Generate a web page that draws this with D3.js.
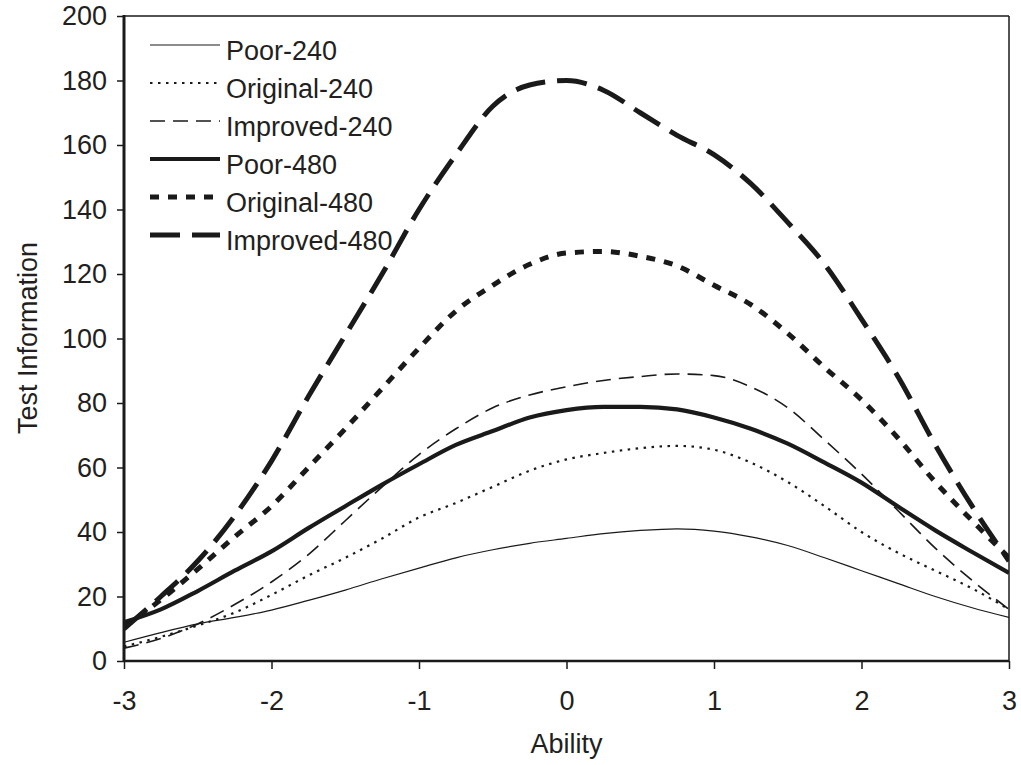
<!DOCTYPE html>
<html>
<head>
<meta charset="utf-8">
<script src="https://cdn.jsdelivr.net/npm/d3@7"></script>
<style>
  html, body { margin: 0; padding: 0; background: #fff; }
  svg { display: block; }
  text { font-family: "Liberation Sans", Arial, sans-serif; fill: #231f20; }
</style>
</head>
<body>
<svg id="chart" width="1021" height="765"></svg>
<script>
// Ability grid (theta) shared by all test information curves
const ability = [-3, -2.75, -2.5, -2.25, -2, -1.75, -1.5, -1.25, -1, -0.75, -0.5, -0.25,
                 0, 0.25, 0.5, 0.75, 1, 1.25, 1.5, 1.75, 2, 2.25, 2.5, 2.75, 3];

// Test information per item pool and test length
const poor240 = [5.8, 8.8, 11.5, 13.5, 15.8, 18.8, 22, 25.5, 28.8, 32, 34.5, 36.5,
                 38, 39.5, 40.5, 41, 40.3, 38.5, 35.8, 32, 28, 24, 20, 16.5, 13.5];
const original240 = [4.5, 7.5, 11, 15, 20.5, 26.5, 32, 38, 44.5, 49, 54, 59,
                     62.5, 64.5, 66, 66.7, 65.5, 61.5, 55.5, 48, 40, 33.5, 28, 22.5, 16];
const improved240 = [4, 7, 11.5, 17.5, 24.5, 33, 43.5, 54, 64, 72, 78.5, 82.5,
                     85, 87, 88.2, 89, 88.5, 85, 78.5, 68.5, 58, 46.5, 35, 25, 16];
const poor480 = [12, 16, 21.7, 28, 34, 41.2, 48, 54.7, 61, 67, 71.3, 75.5,
                 77.8, 78.8, 78.8, 78, 75.5, 72, 67.4, 61.5, 55.3, 47.8, 40.5, 33.8, 27.3];
const original480 = [10.5, 19, 28.5, 38.5, 48, 60, 72, 84.5, 97, 108.5, 116.5, 123,
                     126.5, 127, 125.5, 122.5, 116.5, 110.5, 101.6, 91, 81, 69, 55.5, 43.5, 32];
const improved480 = [10, 20, 31, 45, 62, 82, 101, 120, 140, 157, 172, 178.6,
                     180, 177, 170, 163, 157, 148, 136, 123, 106, 88, 67, 48, 31];

const seriesNames = ["Poor-240", "Original-240", "Improved-240", "Poor-480", "Original-480", "Improved-480"];
const seriesValues = [poor240, original240, improved240, poor480, original480, improved480];

const xTicks = [-3, -2, -1, 0, 1, 2, 3];
const yTicks = [0, 20, 40, 60, 80, 100, 120, 140, 160, 180, 200];

// Stroke appearance for each series
const styles = [
  { width: 1.2, dash: null },
  { width: 2.2, dash: "2.5,5.5" },
  { width: 1.6, dash: "15,8" },
  { width: 4.2, dash: null },
  { width: 5,   dash: "9,9" },
  { width: 5,   dash: "30,12" }
];

const margin = { left: 124, right: 1009, top: 16, bottom: 661 };
const svg = d3.select("#chart");

const x = d3.scaleLinear().domain([-3, 3]).range([margin.left, margin.right]);
const y = d3.scaleLinear().domain([0, 200]).range([margin.bottom, margin.top]);

const ink = "#1a1a1a";

// Plot frame: thin top/right, heavier left/bottom axes
svg.append("line").attr("x1", margin.left).attr("x2", margin.right)
  .attr("y1", margin.top).attr("y2", margin.top)
  .attr("stroke", ink).attr("stroke-width", 1.5);
svg.append("line").attr("x1", margin.right).attr("x2", margin.right)
  .attr("y1", margin.top).attr("y2", margin.bottom)
  .attr("stroke", ink).attr("stroke-width", 1.5);

// Axes
const yAxis = svg.append("g")
  .attr("transform", `translate(${margin.left},0)`)
  .call(d3.axisLeft(y).tickValues(yTicks).tickSize(7).tickPadding(10).tickFormat(d3.format("d")));
const xAxis = svg.append("g")
  .attr("transform", `translate(0,${margin.bottom})`)
  .call(d3.axisBottom(x).tickValues(xTicks).tickSize(8).tickPadding(22).tickFormat(d => d < 0 ? "-" + Math.abs(d) : String(d)));

[yAxis, xAxis].forEach(g => {
  g.select(".domain").remove();
  g.selectAll(".tick line").attr("stroke", ink).attr("stroke-width", 1.5);
  g.selectAll(".tick text")
    .attr("font-family", "'Liberation Sans', Arial, sans-serif")
    .attr("font-size", 27).attr("fill", "#231f20");
});

// Curves
const clipId = "plot-clip";
svg.append("clipPath").attr("id", clipId)
  .append("rect").attr("x", margin.left).attr("y", margin.top - 5)
  .attr("width", margin.right - margin.left).attr("height", margin.bottom - margin.top + 5);

const line = d3.line()
  .x((d, i) => x(ability[i]))
  .y(d => y(d))
  .curve(d3.curveMonotoneX);

const curves = svg.append("g").attr("clip-path", `url(#${clipId})`);
seriesValues.forEach((vals, k) => {
  curves.append("path")
    .datum(vals)
    .attr("d", line)
    .attr("fill", "none")
    .attr("stroke", ink)
    .attr("stroke-width", styles[k].width)
    .attr("stroke-dasharray", styles[k].dash)
    .attr("stroke-linejoin", "round");
});

// Axis lines drawn over the curves
svg.append("line").attr("x1", margin.left).attr("x2", margin.left)
  .attr("y1", margin.top - 1).attr("y2", margin.bottom + 1)
  .attr("stroke", ink).attr("stroke-width", 3);
svg.append("line").attr("x1", margin.left).attr("x2", margin.right)
  .attr("y1", margin.bottom).attr("y2", margin.bottom)
  .attr("stroke", ink).attr("stroke-width", 2.5);

// Legend
const legend = svg.append("g");
seriesNames.forEach((name, k) => {
  const ly = 45 + k * 38;
  legend.append("line")
    .attr("x1", 150).attr("x2", 220).attr("y1", ly).attr("y2", ly)
    .attr("stroke", ink)
    .attr("stroke-width", styles[k].width)
    .attr("stroke-dasharray", styles[k].dash);
  legend.append("text")
    .attr("x", 226).attr("y", ly + 15)
    .attr("font-size", 27)
    .text(name);
});

// Axis titles
svg.append("text")
  .attr("x", x(0)).attr("y", 753)
  .attr("text-anchor", "middle")
  .attr("font-size", 27)
  .text("Ability");
svg.append("text")
  .attr("transform", "translate(37,338) rotate(-90)")
  .attr("text-anchor", "middle")
  .attr("font-size", 27)
  .text("Test Information");
</script>
</body>
</html>
